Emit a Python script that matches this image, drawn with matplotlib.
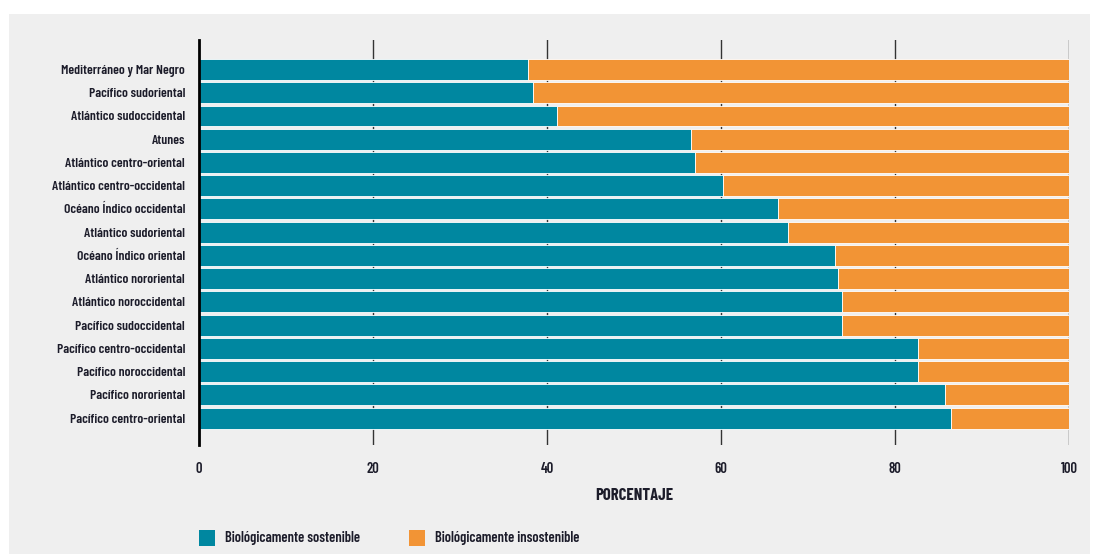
import matplotlib
matplotlib.use("Agg")
import matplotlib.pyplot as plt
from matplotlib.patches import Rectangle

categories = [
    "Mediterráneo y Mar Negro",
    "Pacífico sudoriental",
    "Atlántico sudoccidental",
    "Atunes",
    "Atlántico centro-oriental",
    "Atlántico centro-occidental",
    "Océano Índico occidental",
    "Atlántico sudoriental",
    "Océano Índico oriental",
    "Atlántico nororiental",
    "Atlántico noroccidental",
    "Pacífico sudoccidental",
    "Pacífico centro-occidental",
    "Pacífico noroccidental",
    "Pacífico nororiental",
    "Pacífico centro-oriental",
]
sostenible = [37.8, 38.4, 41.2, 56.5, 57.0, 60.2, 66.6, 67.7,
              73.1, 73.5, 73.9, 73.9, 82.6, 82.6, 85.7, 86.4]
insostenible = [100 - v for v in sostenible]
xticks = [0, 20, 40, 60, 80, 100]
legend_labels = ["Biológicamente sostenible", "Biológicamente insostenible"]

TEAL = "#0087a0"
ORANGE = "#f29435"
BG = "#efefef"
TXT = "#1c1c2a"
FONT = ["Barlow Condensed", "DejaVu Sans"]
WEIGHT = "semibold"
FS = 10.5

plt.rcParams["font.family"] = FONT

fig = plt.figure(figsize=(10.97, 5.54), dpi=100)
fig.patch.set_facecolor("white")
fig.add_artist(Rectangle((9 / 1097, 0), (1090 - 9) / 1097, 1 - 14 / 554,
                         transform=fig.transFigure, facecolor=BG,
                         edgecolor="none", zorder=-10))

ax = fig.add_axes([199 / 1097, 1 - 445 / 554, (1069 - 199) / 1097, (445 - 40) / 554])
ax.set_facecolor("none")
ax.set_zorder(1)

y = list(range(len(categories)))
ax.barh(y, sostenible, height=0.9, color=TEAL, edgecolor="white", linewidth=0.6, zorder=3)
ax.barh(y, insostenible, left=sostenible, height=0.9, color=ORANGE,
        edgecolor="white", linewidth=0.6, zorder=3)

ax.set_xlim(0, 100)
ax.set_ylim(len(categories) - 1 + 1.16, -1.27)
ax.set_xticks(xticks)
ax.set_xticklabels([str(t) for t in xticks])
ax.set_yticks(y)
ax.set_yticklabels(categories)

for t in xticks[1:]:
    ax.axvline(t, color="#333333", linewidth=1.0, zorder=1)

for s in ["top", "right", "bottom"]:
    ax.spines[s].set_visible(False)
ax.spines["left"].set_linewidth(2)
ax.spines["left"].set_color("black")
ax.spines["left"].set_zorder(4)

ax.tick_params(axis="y", length=0, pad=10, labelsize=9.8, labelcolor=TXT)
ax.tick_params(axis="x", length=0, pad=12, labelsize=FS, labelcolor=TXT)
for lab in ax.get_yticklabels() + ax.get_xticklabels():
    lab.set_fontweight(WEIGHT)

ax.set_xlabel("PORCENTAJE", fontsize=12, fontweight="bold", color=TXT, labelpad=9)

# legend
fig.add_artist(Rectangle((199 / 1097, 1 - 546 / 554), 16 / 1097, 16 / 554,
                         transform=fig.transFigure, facecolor=TEAL, edgecolor="none"))
fig.text(225 / 1097, 1 - 538 / 554, legend_labels[0], fontsize=FS, fontweight=WEIGHT,
         color=TXT, va="center", ha="left")
fig.add_artist(Rectangle((409 / 1097, 1 - 546 / 554), 16 / 1097, 16 / 554,
                         transform=fig.transFigure, facecolor=ORANGE, edgecolor="none"))
fig.text(435 / 1097, 1 - 538 / 554, legend_labels[1], fontsize=FS, fontweight=WEIGHT,
         color=TXT, va="center", ha="left")

fig.savefig("out.png", dpi=100, facecolor=fig.get_facecolor())
